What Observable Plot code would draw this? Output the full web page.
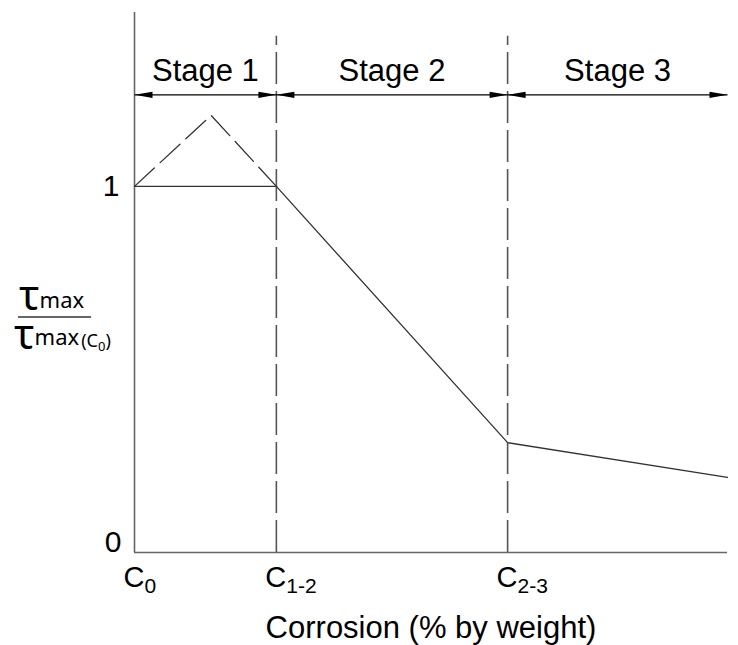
<!DOCTYPE html>
<html>
<head>
<meta charset="utf-8">
<script src="https://cdn.jsdelivr.net/npm/d3@7"></script>
<script src="https://cdn.jsdelivr.net/npm/@observablehq/plot@0.6"></script>
<style>
  html, body { margin: 0; padding: 0; background: #fff; }
  #chart { position: relative; width: 738px; height: 645px; }
</style>
</head>
<body>
<div id="chart"></div>
<script>
// Stage boundaries along the corrosion axis (C0, C1-2, C2-3, end of axis)
const stageNames = ["Stage 1", "Stage 2", "Stage 3"];
const stageBounds = [0, 1, 2.63, 4.18];

// Labelled corrosion levels on the x axis
const boundX = [0, 1, 2.63];
const boundSubs = ["0", "1-2", "2-3"];

// Normalised bond strength: solid path
const curveX = [0, 1, 2.63, 4.18];
const curveY = [1, 1, 0.30, 0.205];

// Possible increase in stage 1: dashed path
const peakX = [0, 0.54, 1];
const peakY = [1, 1.194, 1];

// y tick values
const yTicks = [0, 1];

const arrowLevel = 1.25;
const dividerTop = 1.41;
const yMax = 1.475;
const xTitle = "Corrosion (% by weight)";

const stages = stageNames.map((name, i) => ({name, x1: stageBounds[i], x2: stageBounds[i + 1], mid: (stageBounds[i] + stageBounds[i + 1]) / 2}));
const curve = curveX.map((x, i) => ({x, y: curveY[i]}));
const peak = peakX.map((x, i) => ({x, y: peakY[i]}));
const bounds = boundX.map((x, i) => ({x, sub: boundSubs[i]}));

// Filled arrowheads, tip at the origin
const headRight = {draw(ctx) { ctx.moveTo(0, 0); ctx.lineTo(-18, -3.2); ctx.lineTo(-18, 3.2); ctx.closePath(); }};
const headLeft = {draw(ctx) { ctx.moveTo(0, 0); ctx.lineTo(18, -3.2); ctx.lineTo(18, 3.2); ctx.closePath(); }};

const font = "'Liberation Sans', Arial, sans-serif";

const plot = Plot.plot({
  width: 738,
  height: 645,
  marginLeft: 134,
  marginRight: 11,
  marginTop: 12,
  marginBottom: 93,
  style: {fontFamily: font, background: "#fff", overflow: "visible"},
  x: {domain: [0, stageBounds[stageBounds.length - 1]], axis: null},
  y: {domain: [0, yMax], axis: null},
  marks: [
    // stage dividers
    Plot.ruleX(boundX.slice(1), {y1: 0, y2: dividerTop, stroke: "#555", strokeWidth: 1.6, strokeDasharray: "32,7"}),
    // axes
    Plot.ruleX([0], {stroke: "#666", strokeWidth: 1.6}),
    Plot.ruleY([0], {stroke: "#666", strokeWidth: 1.6}),
    // curves
    Plot.line(peak, {x: "x", y: "y", stroke: "#333", strokeWidth: 1.3, strokeDasharray: "27,8"}),
    Plot.line(curve, {x: "x", y: "y", stroke: "#333", strokeWidth: 1.3}),
    // stage extent arrows
    Plot.link(stages, {x1: "x1", x2: "x2", y1: arrowLevel, y2: arrowLevel, stroke: "#000", strokeWidth: 1.2}),
    Plot.dot(stages, {x: "x1", y: arrowLevel, symbol: headLeft, fill: "#000"}),
    Plot.dot(stages, {x: "x2", y: arrowLevel, symbol: headRight, fill: "#000"}),
    Plot.text(stages, {x: "mid", y: arrowLevel, text: "name", fontSize: 31, lineAnchor: "middle", dy: -24, fill: "#000"}),
    // y tick labels
    Plot.text(yTicks.filter(d => d === 1), {x: 0, y: d => d, text: d => String(d), fontSize: 30, textAnchor: "end", lineAnchor: "middle", dx: -15, dy: 0, fill: "#000"}),
    Plot.text(yTicks.filter(d => d === 0), {x: 0, y: d => d, text: d => String(d), fontSize: 30, textAnchor: "end", lineAnchor: "middle", dx: -13, dy: -10, fill: "#000"}),
    // x boundary labels: C with subscripts
    Plot.text(bounds, {x: "x", y: 0, text: () => "C", fontSize: 29, textAnchor: "start", lineAnchor: "middle", dx: -11, dy: 25, fill: "#000"}),
    Plot.text(bounds, {x: "x", y: 0, text: "sub", fontSize: 21, textAnchor: "start", lineAnchor: "middle", dx: 10, dy: 34, fill: "#000"}),
    // x title
    Plot.text([xTitle], {frameAnchor: "bottom", text: d => d, fontSize: 31, lineAnchor: "middle", dy: 76, fill: "#000"})
  ]
});

// y-axis title: the ratio τmax / τmax(C0), drawn as a stacked fraction in the left margin
const ylab = d3.select(plot).append("g")
  .attr("font-family", "'Noto Sans', sans-serif")
  .attr("text-anchor", "start")
  .attr("fill", "#000");

const num = ylab.append("text").attr("x", 19).attr("y", 310);
num.append("tspan").attr("font-size", 42).text("τ");
num.append("tspan").attr("font-size", 22).attr("dy", -2).text("max");

ylab.append("line")
  .attr("x1", 18).attr("x2", 91).attr("y1", 317).attr("y2", 317)
  .attr("stroke", "#666").attr("stroke-width", 2);

const den = ylab.append("text").attr("x", 14).attr("y", 349);
den.append("tspan").attr("font-size", 42).text("τ");
den.append("tspan").attr("font-size", 22).attr("dy", -4).text("max");
den.append("tspan").attr("font-size", 18).attr("dx", 2).attr("dy", 2).text("(C");
den.append("tspan").attr("font-size", 13).attr("dy", 4).text("0");
den.append("tspan").attr("font-size", 18).attr("dy", -4).text(")");

document.getElementById("chart").append(plot);
</script>
</body>
</html>
